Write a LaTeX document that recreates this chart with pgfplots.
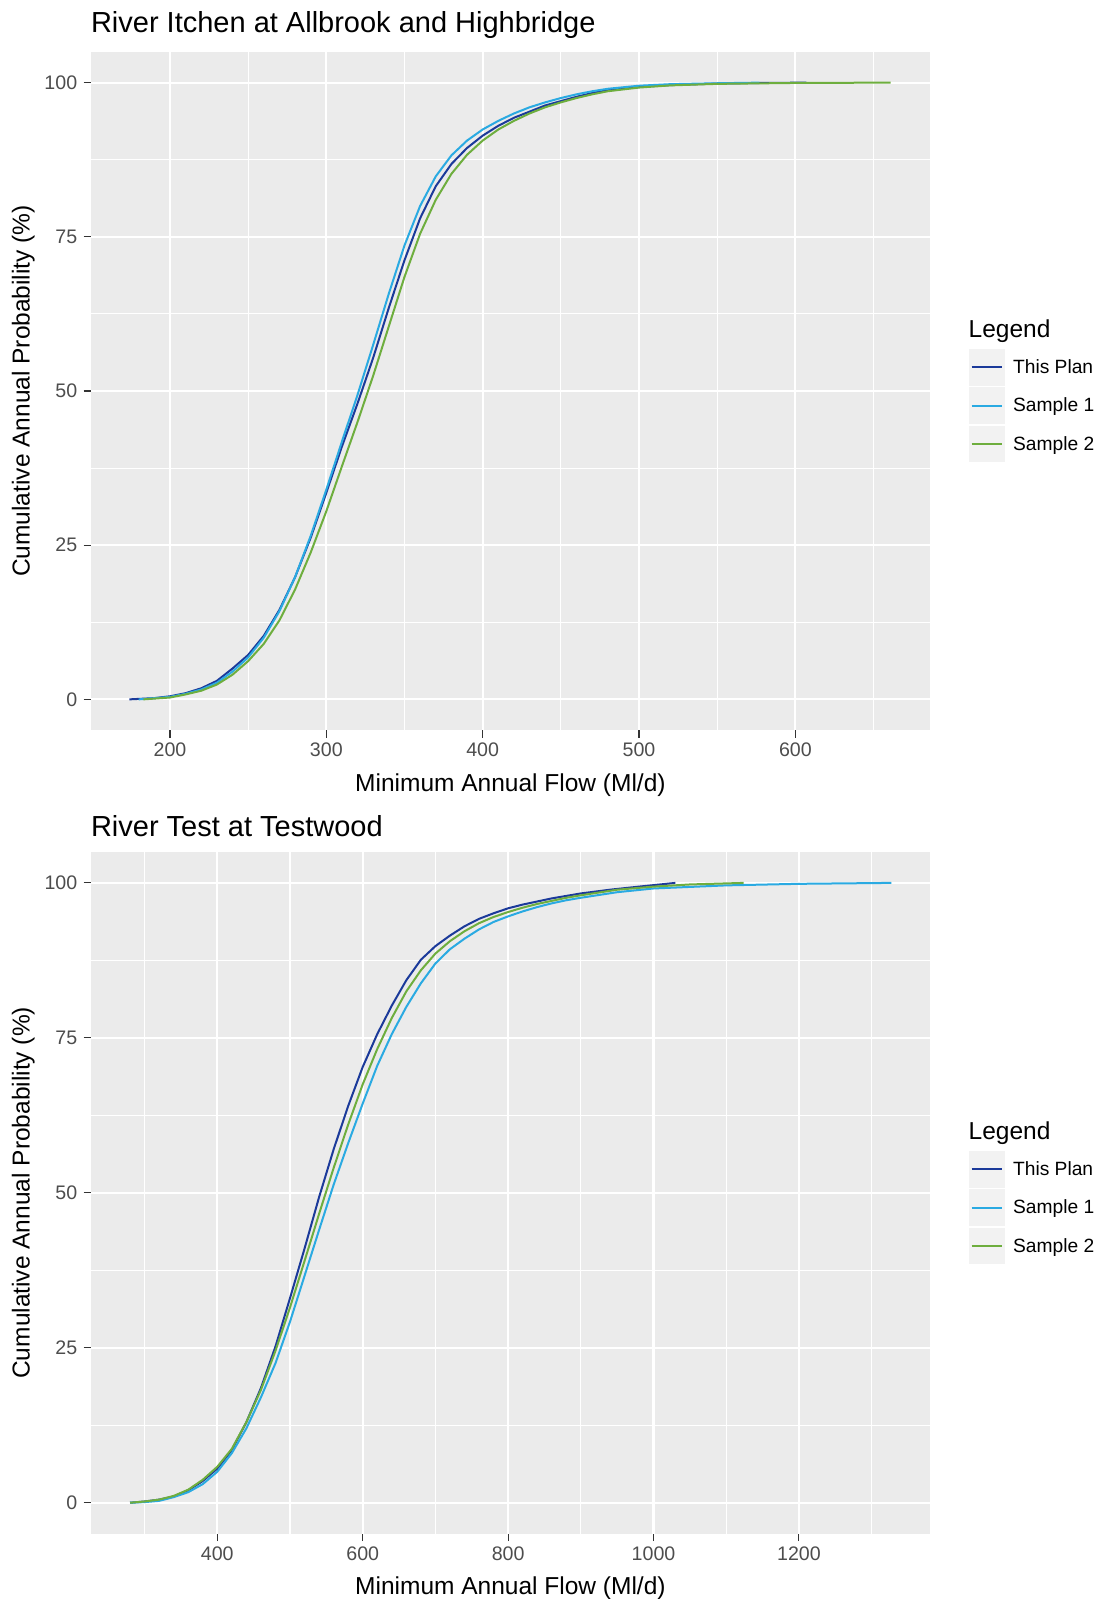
\documentclass[border=0pt]{standalone}
\usepackage{pgfplots}
\pgfplotsset{compat=1.18}
\usepackage{fontspec}
\setmainfont{Liberation Sans}
\definecolor{ggbg}{HTML}{EBEBEB}
\definecolor{ggkey}{HTML}{F2F2F2}
\definecolor{gg30}{HTML}{4D4D4D}
\definecolor{gg20}{HTML}{333333}
\definecolor{cplan}{HTML}{1B3A9A}
\definecolor{csone}{HTML}{2AAAE2}
\definecolor{cstwo}{HTML}{6EAE3E}

\pgfplotsset{ggstyle/.style={
  scale only axis, width=419.4pt,
  ymin=-5, ymax=105,
  axis background/.style={fill=ggbg},
  axis line style={draw=none},
  tick pos=left, tick align=outside,
  major tick length=3.7pt, minor tick length=0pt,
  tick style={gg20, line width=0.55pt},
  grid=both,
  major grid style={white, line width=1.1pt},
  minor grid style={white, line width=0.55pt},
  ytick={0,25,50,75,100},
  minor ytick={12.5,37.5,62.5,87.5},
  ticklabel style={font=\fontsize{9.8}{11}\selectfont, text=gg30, inner sep=0pt},
  yticklabel style={anchor=east, xshift=-3pt},
  xticklabel style={anchor=north, yshift=-2.6pt},
  /pgf/number format/assume math mode=true,
  /pgf/number format/1000 sep={},
  every axis plot/.append style={line width=1pt, line join=round, no markers},
}}

\newcommand{\gglegend}[1]{%
  \begin{scope}[yshift=#1]
    \node[anchor=base west, inner sep=0pt, font=\fontsize{12.25}{14}\selectfont] at (484.15pt,-168.65pt) {Legend};
    \fill[ggkey] (484.5pt,-174.5pt) rectangle (502.5pt,-192.85pt);
    \fill[ggkey] (484.5pt,-193.65pt) rectangle (502.5pt,-212pt);
    \fill[ggkey] (484.5pt,-212.85pt) rectangle (502.5pt,-231.15pt);
    \draw[cplan, line width=1pt] (485.85pt,-183.7pt) -- (501.15pt,-183.7pt);
    \draw[csone, line width=1pt] (485.85pt,-202.8pt) -- (501.15pt,-202.8pt);
    \draw[cstwo, line width=1pt] (485.85pt,-222pt) -- (501.15pt,-222pt);
    \node[anchor=base west, inner sep=0pt, font=\fontsize{9.6}{11}\selectfont] at (506.35pt,-186.65pt) {This Plan};
    \node[anchor=base west, inner sep=0pt, font=\fontsize{9.6}{11}\selectfont] at (506.35pt,-205.85pt) {Sample 1};
    \node[anchor=base west, inner sep=0pt, font=\fontsize{9.6}{11}\selectfont] at (506.35pt,-225pt) {Sample 2};
  \end{scope}}

\begin{document}
\begin{tikzpicture}
\useasboundingbox (0,0) rectangle (548.5pt,-799.5pt);

% ---------------- Top panel ----------------
\begin{axis}[ggstyle,
  at={(45.5pt,-25.9pt)}, anchor=north west, height=339.2pt,
  xmin=149.5, xmax=686,
  xtick={200,300,400,500,600},
  minor xtick={250,350,450,550,650},
]
\addplot[cplan] coordinates {
(174,0) (190,0.2) (200,0.5) (210,1.0) (220,1.8) (230,3.0) (240,5.0) (250,7.2)
(260,10.3) (270,14.5) (280,19.8) (290,26.2) (300,33.5) (310,41.0) (320,48.0)
(330,55.4) (340,63.5) (350,71.2) (360,78.0) (370,83.2) (380,86.8) (390,89.4)
(400,91.4) (410,93.0) (420,94.3) (430,95.3) (440,96.3) (450,97.0) (460,97.7)
(470,98.3) (480,98.8) (500,99.3) (520,99.6) (550,99.85) (580,99.95) (607,100)
};
\addplot[csone] coordinates {
(180,0) (200,0.4) (210,0.9) (220,1.6) (230,2.7) (240,4.5) (250,6.8) (260,10.0)
(270,14.3) (280,19.8) (290,26.5) (300,34.0) (310,41.8) (320,49.4) (330,57.5)
(340,65.8) (350,73.6) (360,80.0) (370,84.8) (380,88.2) (390,90.6) (400,92.4)
(410,93.8) (420,95.0) (430,96.0) (440,96.8) (450,97.5) (460,98.1) (470,98.6)
(480,99.0) (500,99.5) (520,99.75) (550,99.9) (577,100)
};
\addplot[cstwo] coordinates {
(183,0) (200,0.3) (210,0.8) (220,1.4) (230,2.4) (240,4.0) (250,6.2) (260,9.0)
(270,12.8) (280,17.8) (290,23.8) (300,30.5) (310,37.8) (320,45.0) (330,52.5)
(340,60.5) (350,68.5) (360,75.5) (370,81.0) (380,85.2) (390,88.3) (400,90.6)
(410,92.4) (420,93.8) (430,95.0) (440,96.0) (450,96.8) (460,97.5) (470,98.1)
(480,98.6) (500,99.2) (520,99.55) (550,99.8) (600,99.95) (661,100)
};
\end{axis}

% ---------------- Bottom panel ----------------
\begin{axis}[ggstyle,
  at={(45.5pt,-425.95pt)}, anchor=north west, height=340.9pt,
  xmin=226.3, xmax=1380,
  xtick={400,600,800,1000,1200},
  minor xtick={300,500,700,900,1100,1300},
]
\addplot[cplan] coordinates {
(280,0) (300,0.2) (320,0.5) (340,1.0) (360,2.0) (380,3.5) (400,5.5) (420,8.5)
(440,13.0) (460,18.5) (480,25.2) (500,33.0) (520,41.0) (540,49.3) (560,57.0)
(580,64.0) (600,70.3) (620,75.6) (640,80.2) (660,84.3) (680,87.6) (700,89.8)
(720,91.5) (740,93.0) (760,94.2) (780,95.1) (800,95.9) (820,96.5) (840,97.0)
(860,97.5) (880,97.9) (900,98.3) (940,98.9) (980,99.4) (1030,100)
};
\addplot[csone] coordinates {
(280,0) (300,0.1) (320,0.3) (340,0.9) (360,1.7) (380,3.0) (400,5.0) (420,8.0)
(440,12.0) (460,17.0) (480,22.5) (500,29.2) (520,36.6) (540,44.0) (560,51.3)
(580,58.0) (600,64.4) (620,70.5) (640,75.6) (660,80.0) (680,83.8) (700,87.0)
(720,89.3) (740,91.0) (760,92.5) (780,93.7) (800,94.6) (820,95.4) (840,96.1)
(860,96.7) (880,97.2) (900,97.6) (950,98.5) (1000,99.1) (1100,99.6) (1200,99.85)
(1327,100)
};
\addplot[cstwo] coordinates {
(280,0) (300,0.2) (320,0.5) (340,1.1) (360,2.1) (380,3.7) (400,5.8) (420,8.7)
(440,13.0) (460,18.2) (480,24.5) (500,31.5) (520,39.0) (540,46.6) (560,54.0)
(580,61.0) (600,67.5) (620,73.2) (640,78.2) (660,82.5) (680,85.9) (700,88.6)
(720,90.6) (740,92.2) (760,93.5) (780,94.5) (800,95.3) (820,96.0) (840,96.6)
(860,97.1) (880,97.6) (900,98.0) (950,98.9) (1000,99.4) (1050,99.75) (1124,100)
};
\end{axis}

% titles and axis titles
\node[anchor=base west, inner sep=0pt, font=\fontsize{14.5}{17}\selectfont] at (45.3pt,-16.15pt) {River Itchen at Allbrook and Highbridge};
\node[anchor=base west, inner sep=0pt, font=\fontsize{14.5}{17}\selectfont] at (45.3pt,-418.35pt) {River Test at Testwood};
\node[anchor=base, inner sep=0pt, font=\fontsize{12.25}{14}\selectfont] at (255.2pt,-395.5pt) {Minimum Annual Flow (Ml/d)};
\node[anchor=base, inner sep=0pt, font=\fontsize{12.25}{14}\selectfont] at (255.2pt,-797.3pt) {Minimum Annual Flow (Ml/d)};
\node[rotate=90, anchor=base, inner sep=0pt, font=\fontsize{12.25}{14}\selectfont] at (14.75pt,-195.5pt) {Cumulative Annual Probability (\%)};
\node[rotate=90, anchor=base, inner sep=0pt, font=\fontsize{12.25}{14}\selectfont] at (14.75pt,-596.4pt) {Cumulative Annual Probability (\%)};

\gglegend{0pt}
\gglegend{-401pt}
\end{tikzpicture}
\end{document}
